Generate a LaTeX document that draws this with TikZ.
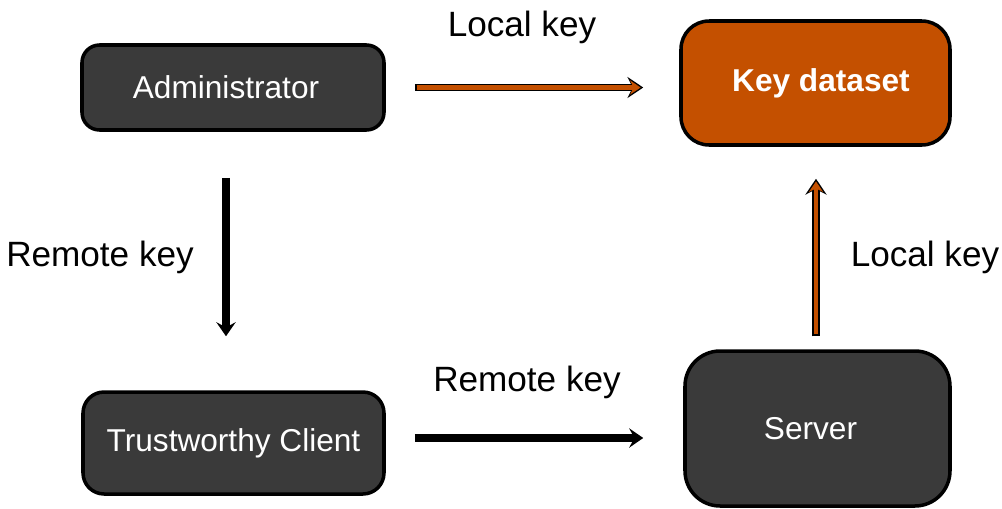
\documentclass[tikz,border=0pt]{standalone}
\usepackage{fontspec}
\setmainfont{Liberation Sans}
\usetikzlibrary{positioning,arrows.meta}

\definecolor{boxgray}{HTML}{3A3A3A}
\definecolor{keyorange}{HTML}{C45000}

\tikzset{
  box/.style={draw=black, line width=2pt, fill=boxgray,
    text=white, font=\fontsize{18}{20}\selectfont},
  keybox/.style={box, fill=keyorange, font=\fontsize{18}{20}\selectfont\bfseries},
  lbl/.style={font=\fontsize{20}{22}\selectfont},
  flow/.style={line width=4pt, -{Stealth[length=8pt,width=11pt,inset=3pt]}},
  flowout/.style={line width=4.2pt, black, -{Stealth[length=9pt,width=12pt,inset=3pt]}},
  flowin/.style={line width=2.4pt, keyorange,
    -{Stealth[length=6pt,width=8pt,inset=2pt]}}
}

\begin{document}
\begin{tikzpicture}[x=0.02cm,y=-0.02cm]

\useasboundingbox (0,0) rectangle (1002,508);

% ============================
% BOXES
% ============================

\node[box, minimum width=302*0.02cm, minimum height=85*0.02cm, rounded corners=10pt]
  (admin) at (233,87.5) {\hspace*{-0.28cm}Administrator};
\node[keybox, minimum width=269*0.02cm, minimum height=124*0.02cm, rounded corners=16pt]
  (keyset) at (815.5,83) {\hspace*{0.22cm}Key dataset};
\node[box, minimum width=301*0.02cm, minimum height=102*0.02cm, rounded corners=12pt]
  (client) at (233.5,443) {Trustworthy Client};
\node[box, minimum width=265*0.02cm, minimum height=155*0.02cm, rounded corners=20pt]
  (server) at (817.5,428.5) {\hspace*{-0.28cm}Server};

% ============================
% ARROWS
% ============================

% local key: administrator -> key dataset
\draw[flowout, shorten <=29*0.02cm, shorten >=36*0.02cm]
  (admin.east) -- (admin.east -| keyset.west);
\draw[flowin, shorten <=29*0.02cm+1.1pt, shorten >=36*0.02cm+1.5pt]
  (admin.east) -- (admin.east -| keyset.west);

% remote key: administrator -> client
\draw[flow, shorten <=46*0.02cm, shorten >=54*0.02cm]
  ([xshift=-7*0.02cm]admin.south) -- ([xshift=-7*0.02cm]admin.south |- client.north);

% remote key: client -> server
\draw[flow, shorten <=29*0.02cm, shorten >=40*0.02cm]
  ([yshift=5*0.02cm]client.east) -- ([yshift=5*0.02cm]client.east -| server.west);

% local key: server -> key dataset
\draw[flowout, shorten <=13*0.02cm, shorten >=32*0.02cm]
  ([xshift=-1.5*0.02cm]server.north) -- ([xshift=-1.5*0.02cm]server.north |- keyset.south);
\draw[flowin, shorten <=13*0.02cm+1.1pt, shorten >=32*0.02cm+1.5pt]
  ([xshift=-1.5*0.02cm]server.north) -- ([xshift=-1.5*0.02cm]server.north |- keyset.south);

% ============================
% LABELS
% ============================

\node[lbl] (lk1) at (522,27) {Local key};
\node[lbl] (rk1) at (100,257) {Remote key};
\node[lbl] (rk2) at (527,382) {Remote key};
\node[lbl] (lk2) at (925,257) {Local key};

\end{tikzpicture}
\end{document}
